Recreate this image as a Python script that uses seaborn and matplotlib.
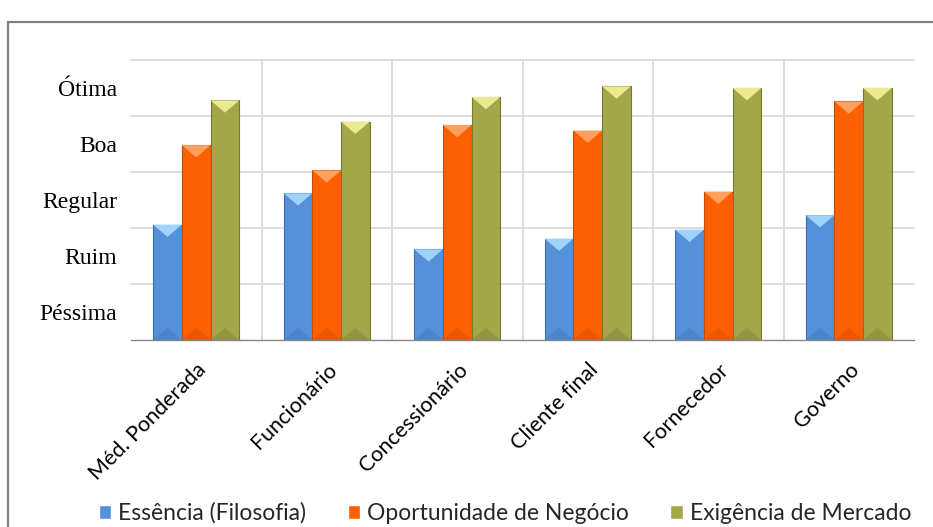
import pandas as pd
import numpy as np
from matplotlib import pyplot as plt
from matplotlib.patches import Polygon, Rectangle
import seaborn as sns

categories = ['Méd. Ponderada', 'Funcionário', 'Concessionário',
              'Cliente final', 'Fornecedor', 'Governo']
series = ['Essência (Filosofia)', 'Oportunidade de Negócio', 'Exigência de Mercado']
essencia = [2.06, 2.62, 1.62, 1.81, 1.97, 2.23]
oportunidade = [3.48, 3.03, 3.84, 3.74, 2.65, 4.26]
exigencia = [4.28, 3.90, 4.34, 4.53, 4.50, 4.50]
level_labels = ['Péssima', 'Ruim', 'Regular', 'Boa', 'Ótima']

colors = ['#5590d8', '#fd6000', '#a4a64a']
edges = ['#3d6fb0', '#c44a00', '#76782f']
tops = ['#9fd3fb', '#ffa060', '#eaea90']

df = pd.DataFrame({
    'categoria': categories * 3,
    'serie': [s for s in series for _ in categories],
    'valor': essencia + oportunidade + exigencia,
})

sns.set_style('white')
plt.rcParams['font.family'] = ['Lato', 'DejaVu Sans']

fig = plt.figure(figsize=(9.33, 5.27), dpi=100)
ax = fig.add_axes([131 / 933, 1 - 340 / 527, 783 / 933, 280 / 527])

sns.barplot(data=df, x='categoria', y='valor', hue='serie', palette=colors,
            width=0.66, saturation=1, ax=ax, legend=True, zorder=3)

# bevel look: darker edge, light triangle on top, faint one at the bottom
for i, s in enumerate(series):
    for bar in ax.containers[i]:
        bar.set_edgecolor(edges[i])
        bar.set_linewidth(0.8)
        x0, w, h = bar.get_x(), bar.get_width(), bar.get_height()
        ax.add_patch(Polygon([(x0, h), (x0 + w, h), (x0 + w / 2, h - 0.22)],
                             closed=True, facecolor=tops[i], edgecolor='none', zorder=4))
        ax.add_patch(Polygon([(x0, 0), (x0 + w, 0), (x0 + w / 2, 0.22)],
                             closed=True, facecolor=edges[i], alpha=0.35,
                             edgecolor='none', zorder=4))

ax.set_xlim(-0.5, len(categories) - 0.5)
ax.set_ylim(0, 5)
ax.set_xlabel('')
ax.set_ylabel('')

for yv in range(1, 6):
    ax.axhline(yv, color='#d9d9d9', lw=1.3, zorder=1, clip_on=False)
for xv in np.arange(0.5, len(categories) - 1, 1.0):
    ax.axvline(xv, color='#d9d9d9', lw=1.3, zorder=1)

ax.set_yticks(np.arange(0.5, 5, 1.0))
ax.set_yticklabels(level_labels, family='Liberation Serif', fontsize=17, color='black')
ax.tick_params(axis='y', length=0, pad=10)

ax.set_xticks(range(len(categories)))
ax.set_xticklabels(categories, rotation=45, ha='right', rotation_mode='anchor',
                   fontsize=15.5, color='black')
ax.set_xticks(np.arange(-0.5, len(categories), 1.0), minor=True)
ax.tick_params(axis='x', which='major', length=0, pad=14)
ax.tick_params(axis='x', which='minor', length=6, color='#868686', width=1)

for side in ['top', 'right', 'left']:
    ax.spines[side].set_visible(False)
ax.spines['bottom'].set_color('#868686')
ax.spines['bottom'].set_linewidth(1)
ax.spines['bottom'].set_zorder(5)

handles, labels = ax.get_legend_handles_labels()
ax.legend_.remove()
fig.legend(handles, labels, loc='center', bbox_to_anchor=(505 / 933, 1 - 513 / 527),
           ncol=3, frameon=False, fontsize=16.5, handlelength=0.55, handleheight=0.55,
           handletextpad=0.3, columnspacing=1.8)

# outer chart frame
fig.patches.append(Rectangle((8 / 933, -0.1), 1.1, 1.1 - 22 / 527,
                             transform=fig.transFigure, fill=False,
                             edgecolor='#808080', lw=1.6))

fig.savefig('out.png', dpi=100)
